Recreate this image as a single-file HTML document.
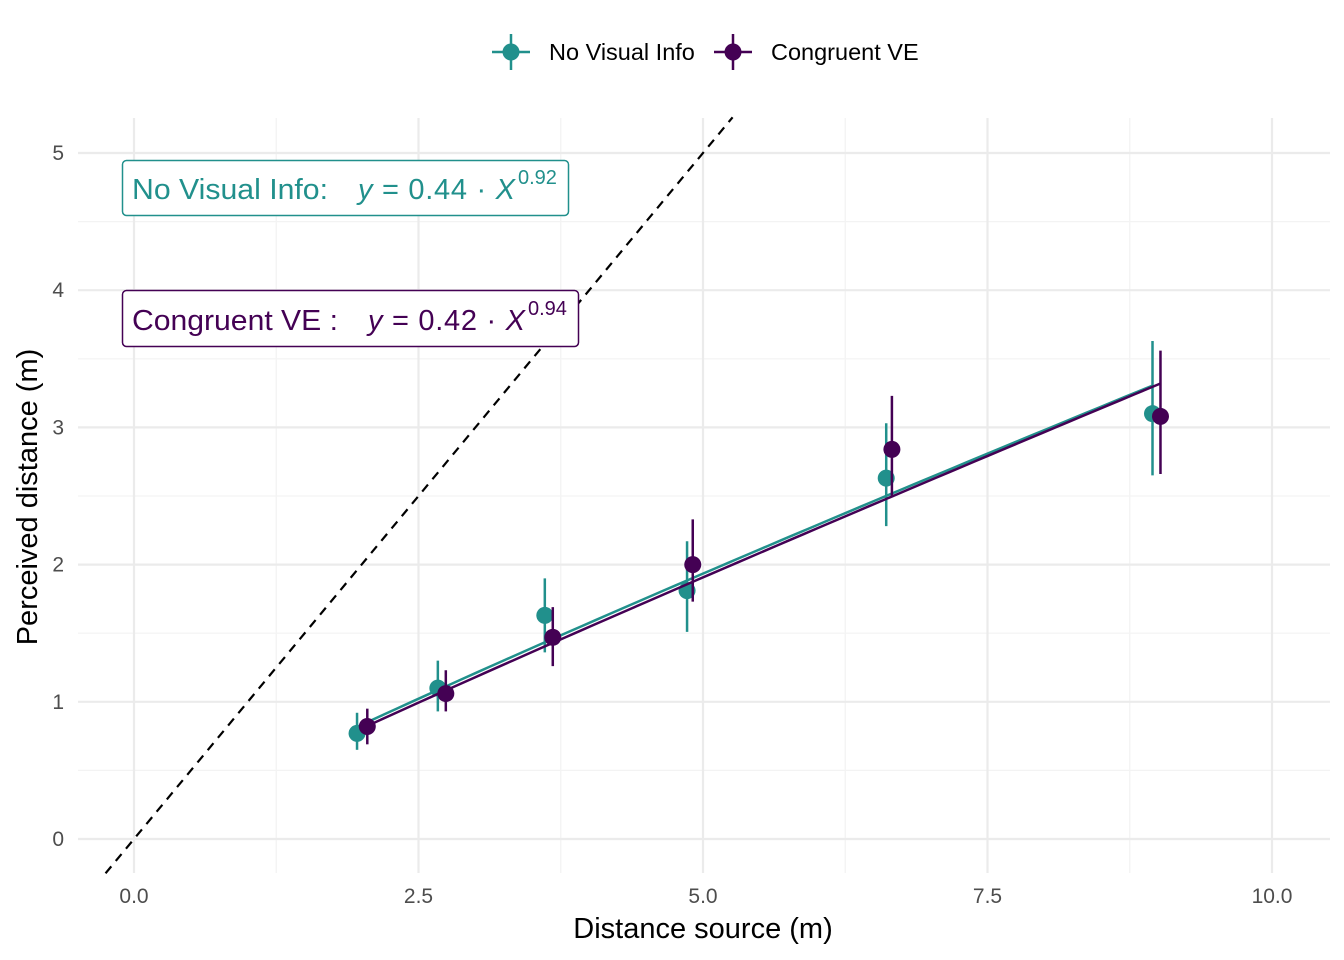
<!DOCTYPE html>
<html><head><meta charset="utf-8"><style>
body{margin:0;background:#fff}
svg{display:block;font-family:"Liberation Sans",sans-serif}
</style></head><body>
<svg id="chart" width="1344" height="960"></svg>
<script>
const ticksX=[0,2.5,5,7.5,10];
const tickLabelsX=["0.0","2.5","5.0","7.5","10.0"];
const ticksY=[0,1,2,3,4,5];
const nviX=[1.96,2.67,3.61,4.86,6.61,8.95];
const nviY=[0.77,1.10,1.63,1.81,2.63,3.10];
const nviLo=[0.65,0.93,1.36,1.51,2.28,2.65];
const nviHi=[0.92,1.30,1.90,2.17,3.03,3.63];
const cveX=[2.05,2.74,3.68,4.91,6.66,9.02];
const cveY=[0.82,1.06,1.47,2.00,2.84,3.08];
const cveLo=[0.69,0.93,1.26,1.73,2.49,2.66];
const cveHi=[0.95,1.23,1.69,2.33,3.23,3.56];
const nviFit=[0.44,0.92];
const cveFit=[0.42,0.94];
const NS="http://www.w3.org/2000/svg";
const svg=document.getElementById('chart');
const X=v=>134+v*113.8, Y=v=>839-v*137.2;
const L=78,R=1330,T=118,B=873;
function el(t,a,p){const e=document.createElementNS(NS,t);for(const k in a)e.setAttribute(k,a[k]);(p||svg).appendChild(e);return e;}
for(let i=0;i<ticksX.length-1;i++){const v=(ticksX[i]+ticksX[i+1])/2;
 const g=el('line',{x1:X(v),x2:X(v),y1:T,y2:B,stroke:'#f3f3f3','stroke-width':1.2});
 
 }
for(let v=0.5;v<5.3;v+=1){const g=el('line',{x1:L,x2:R,y1:Y(v),y2:Y(v),stroke:'#f3f3f3','stroke-width':1.2});
 
 }
ticksX.forEach((v,i)=>{const g=el('line',{x1:X(v),x2:X(v),y1:T,y2:B,stroke:'#ebebeb','stroke-width':2.2});
 
 
 const t=el('text',{x:X(v),y:903,'text-anchor':'middle','font-size':21,fill:'#4d4d4d'});t.textContent=tickLabelsX[i];
 
 });
ticksY.forEach(v=>{const g=el('line',{x1:L,x2:R,y1:Y(v),y2:Y(v),stroke:'#ebebeb','stroke-width':2.2});
 
 
 const t=el('text',{x:64,y:Y(v)+7,'text-anchor':'end','font-size':21,fill:'#4d4d4d'});t.textContent=v;
 
 });
const d=el('line',{x1:X(-0.25),y1:Y(-0.25),x2:X(5.26),y2:Y(5.26),stroke:'#000','stroke-width':2.2,'stroke-dasharray':'9,7'});


function series(xs,ys,lo,hi,fit,col,name){
 let pts=[];const x0=xs[0],x1=xs[xs.length-1];
 for(let i=0;i<=60;i++){const x=x0+(x1-x0)*i/60;pts.push(X(x)+','+Y(fit[0]*Math.pow(x,fit[1])));}
 const p=el('polyline',{points:pts.join(' '),fill:'none',stroke:col,'stroke-width':2.5});
 
 
 xs.forEach((x,i)=>{
  const e=el('line',{x1:X(x),x2:X(x),y1:Y(lo[i]),y2:Y(hi[i]),stroke:col,'stroke-width':2.5});
  
  
  const c=el('circle',{cx:X(x),cy:Y(ys[i]),r:8.5,fill:col});
  
  });
}
series(nviX,nviY,nviLo,nviHi,nviFit,'#21908C','no-visual-info');
series(cveX,cveY,cveLo,cveHi,cveFit,'#440154','congruent-ve');
</script>
<svg width="1344" height="960" style="position:absolute;left:0;top:0">
 <g font-family="Liberation Sans,sans-serif" font-size="23.5">
  <g>
   <line x1="492" x2="530" y1="52" y2="52" stroke="#21908C" stroke-width="2.5"/><line x1="511" x2="511" y1="34" y2="70" stroke="#21908C" stroke-width="2.5"/><circle cx="511" cy="52" r="8.5" fill="#21908C"/>
   <text x="549" y="60">No Visual Info</text></g>
  <g>
   <line x1="714" x2="752" y1="52" y2="52" stroke="#440154" stroke-width="2.5"/><line x1="733" x2="733" y1="34" y2="70" stroke="#440154" stroke-width="2.5"/><circle cx="733" cy="52" r="8.5" fill="#440154"/>
   <text x="771" y="60">Congruent VE</text></g>
 </g>
 <g font-family="Liberation Sans,sans-serif" fill="#21908C">
  <rect x="122.5" y="160.5" width="446" height="55" rx="4" fill="#fff" stroke="#21908C" stroke-width="1.5"/>
  <text x="132" y="199" font-size="29" textLength="196" lengthAdjust="spacingAndGlyphs">No Visual Info:</text>
  <text x="358" y="199" font-size="29" textLength="157" lengthAdjust="spacing"><tspan font-style="italic">y</tspan> = 0.44 · <tspan font-style="italic">X</tspan></text>
  <text x="518" y="184" font-size="20">0.92</text>
 </g>
 <g font-family="Liberation Sans,sans-serif" fill="#440154">
  <rect x="122.5" y="290.5" width="456" height="56" rx="4" fill="#fff" stroke="#440154" stroke-width="1.5"/>
  <text x="132" y="330" font-size="29" textLength="206" lengthAdjust="spacingAndGlyphs">Congruent VE :</text>
  <text x="368" y="330" font-size="29" textLength="157" lengthAdjust="spacing"><tspan font-style="italic">y</tspan> = 0.42 · <tspan font-style="italic">X</tspan></text>
  <text x="528" y="315" font-size="20">0.94</text>
 </g>
 <text x="703" y="938" text-anchor="middle" font-family="Liberation Sans,sans-serif" font-size="29">Distance source (m)</text>
 <text transform="translate(37,497) rotate(-90)" text-anchor="middle" font-family="Liberation Sans,sans-serif" font-size="29">Perceived distance (m)</text>
</svg>
</body></html>
